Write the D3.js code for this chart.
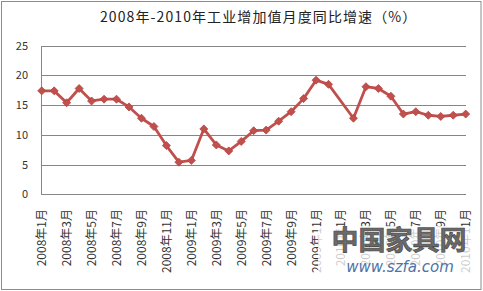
<!DOCTYPE html>
<html>
<head>
<meta charset="utf-8">
<script src="https://cdn.jsdelivr.net/npm/d3@7"></script>
<style>
  body { margin: 0; background: #fff; }
  svg { display: block; font-family: "Noto Sans CJK SC", "DejaVu Sans", sans-serif; }
</style>
</head>
<body>
<div id="chart"></div>
<script>
// categories (one per month)
const months = [
  '2008年1月','2008年2月','2008年3月','2008年4月','2008年5月','2008年6月',
  '2008年7月','2008年8月','2008年9月','2008年10月','2008年11月','2008年12月',
  '2009年1月','2009年2月','2009年3月','2009年4月','2009年5月','2009年6月',
  '2009年7月','2009年8月','2009年9月','2009年10月','2009年11月','2009年12月',
  '2010年1月','2010年2月','2010年3月','2010年4月','2010年5月','2010年6月',
  '2010年7月','2010年8月','2010年9月','2010年10月','2010年11月'
];
const growth = [
  17.4, 17.4, 15.4, 17.8, 15.7, 16.0, 16.0, 14.7, 12.8, 11.4, 8.2, 5.4,
  5.7, 11.0, 8.3, 7.3, 8.9, 10.7, 10.8, 12.3, 13.9, 16.1, 19.2, 18.5,
  null, 12.8, 18.1, 17.8, 16.5, 13.5, 13.9, 13.3, 13.1, 13.3, 13.5
];
const yTicks = [0, 5, 10, 15, 20, 25];
const title = '2008年-2010年工业增加值月度同比增速（%）';

const width = 483, height = 291;
const svg = d3.select('#chart').append('svg')
  .attr('width', width)
  .attr('height', height);

// outer frame
svg.append('rect')
  .attr('x', 1.5).attr('y', 1.5)
  .attr('width', 479.5).attr('height', 288)
  .attr('fill', '#fff')
  .attr('stroke', '#8c8c8c');

svg.append('text')
  .attr('x', 100).attr('y', 22)
  .style('font-size', '14px')
  .style('letter-spacing', '1.1px')
  .attr('fill', '#222')
  .text(title);

const x = d3.scalePoint().domain(months).range([41.7, 465.7]);
const y = d3.scaleLinear().domain([0, 25]).range([194.3, 45.7]);

// gridlines
svg.append('g')
  .selectAll('line')
  .data(yTicks)
  .join('line')
    .attr('x1', 41).attr('x2', 466)
    .attr('y1', d => Math.round(y(d)) + 0.5)
    .attr('y2', d => Math.round(y(d)) + 0.5)
    .attr('stroke', '#868686');

// left axis line
svg.append('line')
  .attr('x1', 41.5).attr('x2', 41.5)
  .attr('y1', Math.round(y(25))).attr('y2', Math.round(y(0)) + 1)
  .attr('stroke', '#868686');

// y labels
svg.append('g')
  .selectAll('text')
  .data(yTicks)
  .join('text')
    .attr('x', 28)
    .attr('y', d => y(d) + 4)
    .attr('text-anchor', 'end')
    .style('font-size', '11px')
    .attr('fill', '#333')
    .text(d => d);

// x labels, every other month, rotated
svg.append('g')
  .selectAll('text')
  .data(months.filter((m, i) => i % 2 === 0))
  .join('text')
    .attr('transform', d => `translate(${x(d) + 4.5},209) rotate(-90)`)
    .attr('text-anchor', 'end')
    .style('font-size', '12px')
    .attr('fill', '#333')
    .text(d => d);

const pts = months.map((m, i) => ({ m: m, v: growth[i] })).filter(d => d.v != null);

const line = d3.line()
  .x(d => x(d.m))
  .y(d => y(d.v));

svg.append('path')
  .datum(pts)
  .attr('d', line)
  .attr('fill', 'none')
  .attr('stroke', '#c0504d')
  .attr('stroke-width', 2.8)
  .attr('stroke-linejoin', 'round');

svg.append('g')
  .selectAll('path')
  .data(pts)
  .join('path')
    .attr('d', 'M0,-4L4,0L0,4L-4,0Z')
    .attr('transform', d => `translate(${x(d.m)},${y(d.v)})`)
    .attr('fill', '#c0504d')
    .attr('stroke', '#b9413e')
    .attr('stroke-width', 0.8);

// watermark
const wm = svg.append('g');
wm.append('rect')
  .attr('x', 318).attr('y', 226)
  .attr('width', 158).attr('height', 48)
  .attr('fill', '#fff')
  .attr('opacity', 0.75);
wm.append('text')
  .attr('x', 399).attr('y', 250)
  .attr('text-anchor', 'middle')
  .style('font-size', '27px')
  .style('font-weight', 'bold')
  .attr('fill', '#6a6a6a')
  .attr('stroke', '#444')
  .attr('stroke-width', 0.6)
  .text('中国家具网');
wm.append('text')
  .attr('x', 400).attr('y', 272)
  .attr('text-anchor', 'middle')
  .style('font-size', '15px')
  .style('font-style', 'italic')
  .style('font-family', '"DejaVu Sans", sans-serif')
  .attr('fill', '#4d73a8')
  .text('www.szfa.com');
</script>
</body>
</html>
